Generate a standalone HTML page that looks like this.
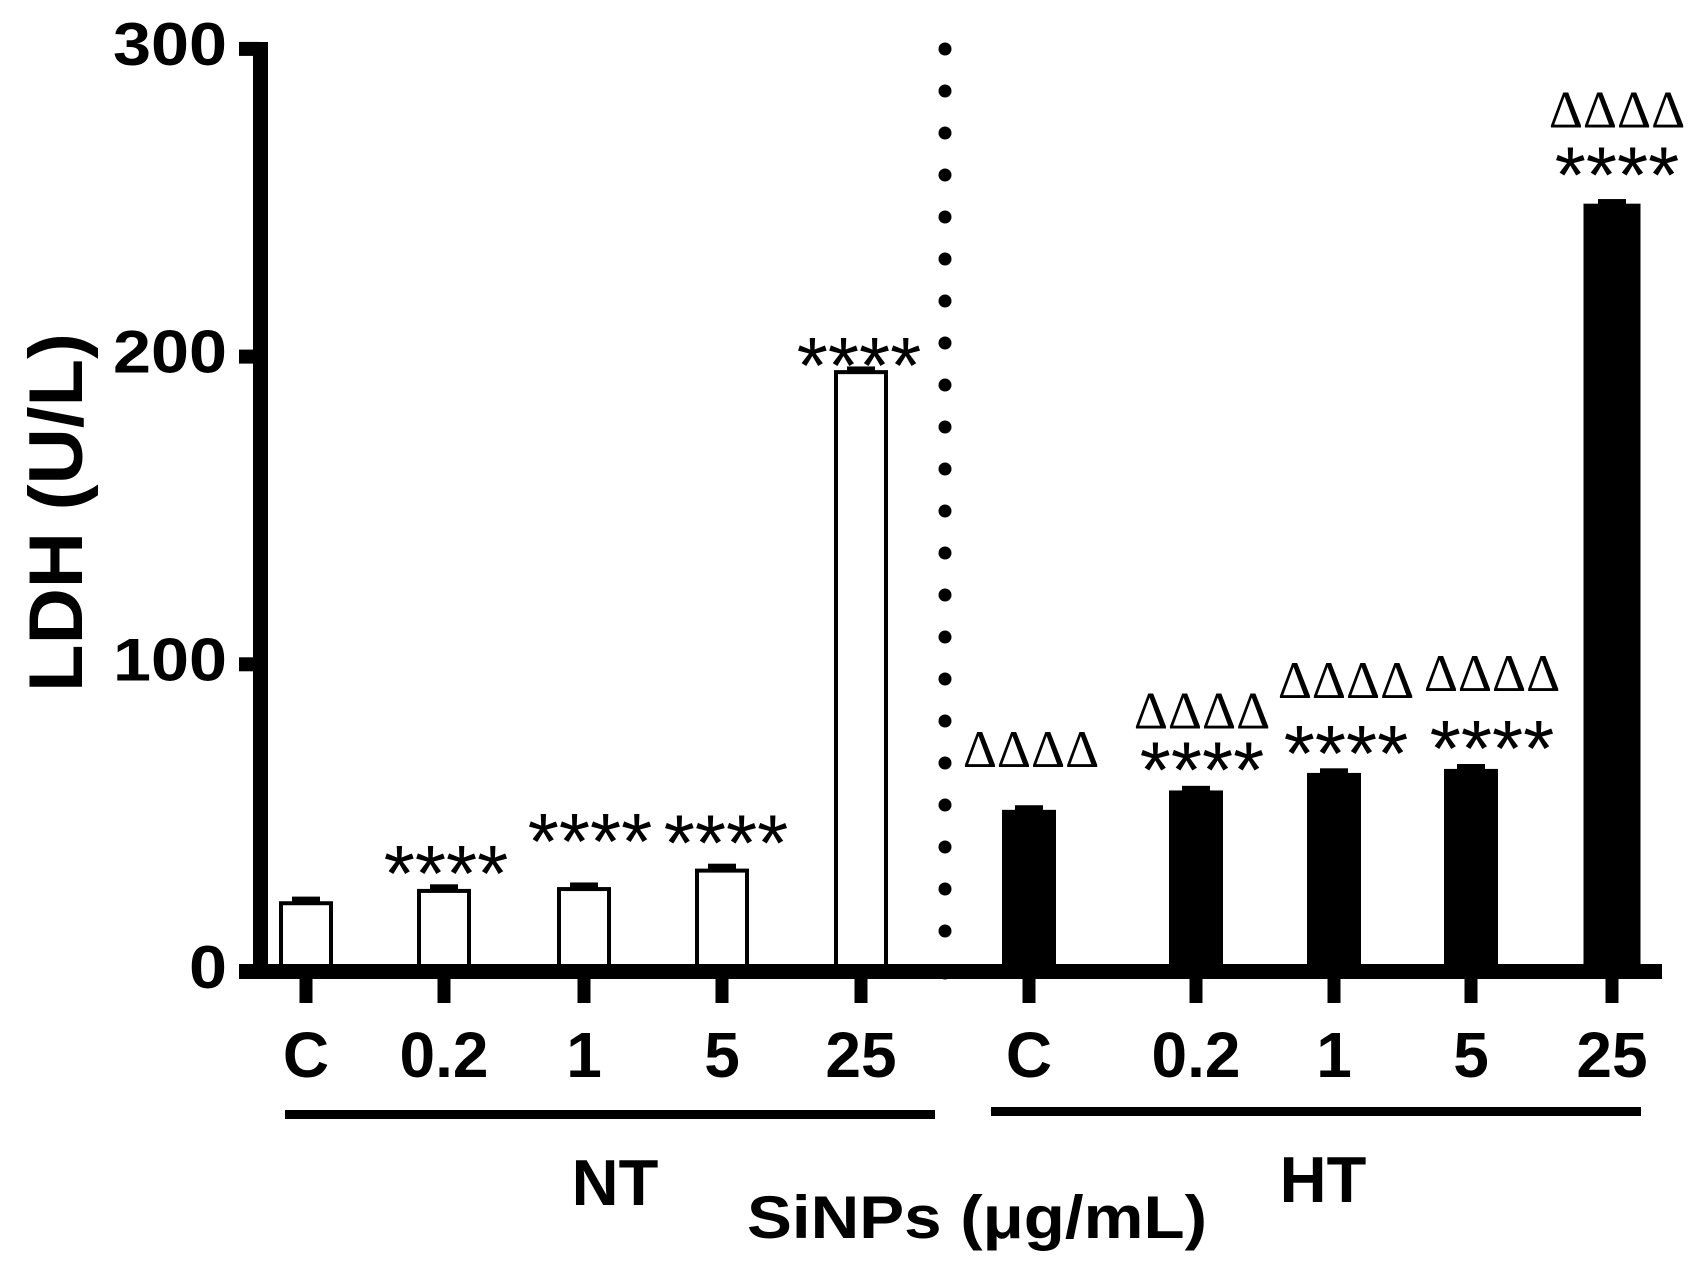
<!DOCTYPE html>
<html><head><meta charset="utf-8"><style>
html,body{margin:0;padding:0;background:#fff;}
body{position:relative;width:1697px;height:1273px;overflow:hidden}
svg{display:block;position:absolute;left:0;top:0}
.tick{font-family:"Liberation Sans",sans-serif;font-weight:bold;font-size:60px;}
.xl{font-family:"Liberation Sans",sans-serif;font-weight:bold;font-size:64px;}
.st{font-family:"Liberation Sans",sans-serif;font-size:80px;}
.dl{font-family:"Liberation Serif",serif;font-size:53px;}
</style></head><body>
<svg id="chart" width="1697" height="1273" viewBox="0 0 1697 1273" xmlns="http://www.w3.org/2000/svg"></svg>
<script>
const categories = ["C","0.2","1","5","25","C","0.2","1","5","25"];
const groups = ["NT","NT","NT","NT","NT","HT","HT","HT","HT","HT"];
const values = [23, 27, 27.6, 33.6, 195.6, 52.7, 59, 64.7, 66, 249.7];
const errors = [1.5, 1.5, 1.5, 1.6, 1.2, 1.5, 1.5, 1.5, 1.6, 1.5];
const stars = ["", "****", "****", "****", "****", "", "****", "****", "****", "****"];
const deltas = ["", "", "", "", "", "ΔΔΔΔ", "ΔΔΔΔ", "ΔΔΔΔ", "ΔΔΔΔ", "ΔΔΔΔ"];
const yTicks = [0, 100, 200, 300];

const NS = "http://www.w3.org/2000/svg";
const svg = document.getElementById("chart");
const xPos = [306, 444, 584, 722, 861, 1029, 1196, 1334, 1471, 1612];
function y(v){ return 972 - v * 307.7 / 100; }
function x(i){ return xPos[i]; }
function mk(tag, attrs, parent){
  const e = document.createElementNS(NS, tag);
  for (const k in attrs) e.setAttribute(k, attrs[k]);
  (parent || svg).appendChild(e);
  return e;
}
for (let yy = 49; yy <= 976; yy += 42) {
  const d = mk("circle", {cx: 945, cy: yy, r: 6.5, fill: "#000"});
  
  
}
categories.forEach((c, i) => {
  const filled = groups[i] === "HT";
  const w = i === 9 ? 57 : 54;
  const top = y(values[i]);
  const eb = mk("rect", {x: x(i) - 14, y: y(values[i] + errors[i]), width: 28, height: top - y(values[i] + errors[i]) + 2, fill: "#000"});
  
  
  const r = mk("rect", filled ? {x: x(i) - w/2, y: top, width: w, height: 972 - top, fill: "#000"}
                              : {x: x(i) - w/2 + 2, y: top + 2, width: w - 4, height: 972 - top - 2, fill: "#fff", stroke: "#000", "stroke-width": 4});
  
  
  const t = mk("rect", {x: x(i) - 6.5, y: 972, width: 13, height: 31, fill: "#000"});
  
  
  const lb = mk("text", {x: x(i), y: 1077, "text-anchor": "middle", class: "xl"});
  lb.textContent = c;
  
  
});
const starOff = [0, 34, 64, 44, 23, 0, 39, 38, 39, 47];
const deltaOff = [0, 0, 0, 0, 0, 60, 79, 92, 95, 93];
const annX = [306, 446, 590, 726, 859, 1031, 1202, 1346, 1492, 1617];
categories.forEach((c, i) => {
  const top = y(values[i]);
  if (stars[i]) {
    const s = mk("text", {x: annX[i], y: top - starOff[i] + 46, "text-anchor": "middle", class: "st"});
    s.textContent = stars[i];
    
    
  }
  if (deltas[i]) {
    const d = mk("text", {x: annX[i], y: top - deltaOff[i] + 17, "text-anchor": "middle", class: "dl"});
    d.textContent = deltas[i];
    
    
  }
});
const ya = mk("rect", {x: 253, y: 42, width: 15, height: 937, fill: "#000"});


const xa = mk("rect", {x: 239, y: 964, width: 1423, height: 15, fill: "#000"});


yTicks.forEach(v => {
  const t = mk("rect", {x: 239, y: y(v) - 7, width: 20, height: 14, fill: "#000"});
  
  
  const s = String(v);
  const l = mk("text", {x: 227 - s.length * 38, y: y(v) + 16, class: "tick", textLength: s.length * 38, lengthAdjust: "spacingAndGlyphs"});
  l.textContent = s;
  
  
});
</script>
<svg width="1697" height="1273">
  <rect x="285" y="1110" width="650" height="9" fill="#000"/>
  <rect x="991" y="1107" width="650" height="9" fill="#000"/>
  <text x="615" y="1205" text-anchor="middle" font-family="Liberation Sans, sans-serif" font-weight="bold" font-size="65">NT</text>
  <text x="1323" y="1202" text-anchor="middle" font-family="Liberation Sans, sans-serif" font-weight="bold" font-size="65">HT</text>
  <text x="747" y="1238" textLength="460" lengthAdjust="spacingAndGlyphs" font-family="Liberation Sans, sans-serif" font-weight="bold" font-size="60">SiNPs (μg/mL)</text>
  <text transform="translate(82,692) rotate(-90)" textLength="359" lengthAdjust="spacingAndGlyphs" font-family="Liberation Sans, sans-serif" font-weight="bold" font-size="76">LDH (U/L)</text>
</svg>
</body></html>
